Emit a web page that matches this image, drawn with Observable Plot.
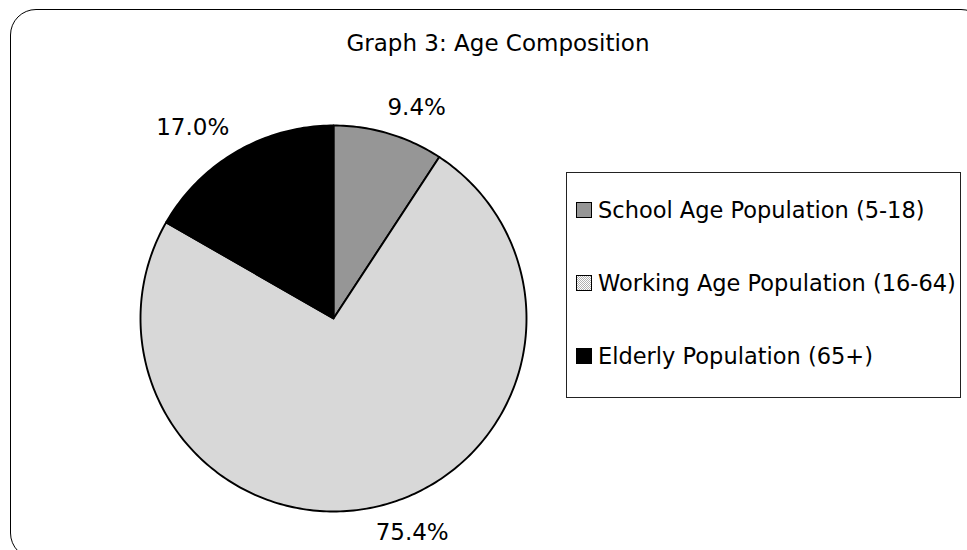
<!DOCTYPE html>
<html><head><meta charset="utf-8">
<script src="https://cdn.jsdelivr.net/npm/d3@7"></script>
<script src="https://cdn.jsdelivr.net/npm/@observablehq/plot@0.6"></script>
<style>
body{margin:0;background:#fff;font-family:"DejaVu Sans",sans-serif;color:#000;}
#wrap{position:relative;width:967px;height:550px;overflow:hidden;background:#fff;}
#frame{position:absolute;left:10px;top:9px;width:975px;height:548px;border:1.6px solid #000;border-radius:26px;}
#chart{position:absolute;left:0;top:0;}
#title{position:absolute;left:11px;width:974px;top:30px;text-align:center;font-size:23px;line-height:27px;}
#legend{position:absolute;left:566px;top:172px;width:393px;height:224px;border:1px solid #222;background:#fff;}
.row{position:absolute;left:9px;height:26px;display:flex;align-items:center;font-size:22.5px;line-height:26px;white-space:nowrap;}
.sw{width:14px;height:14px;border:1px solid #000;margin-right:6px;flex:none;}
</style></head><body>
<div id="wrap"><div id="frame"></div><div id="chart"></div><div id="title"></div><div id="legend"></div></div>
<script>
// ---- data ----
const chartTitle = "Graph 3: Age Composition";
const categories = ["School Age Population (5-18)", "Working Age Population (16-64)", "Elderly Population (65+)"];
const shares = [9.4, 75.4, 17.0];
const labels = ["9.4%", "75.4%", "17.0%"];

// ---- style / layout ----
const sliceFills = ["#969696", "url(#dots)", "#000000"];
const swatchCss = ["background:#969696",
  "background-color:#fff;background-image:conic-gradient(#b0b0b0 25%, #fff 0 50%, #b0b0b0 0 75%, #fff 0);background-size:2px 2px",
  "background:#000"];
const W = 967, H = 550, cx = 333, cy = 318, R = 193;
const labelR = 1.14;
const anchorDx = {start: -9, middle: 0, end: 6};
const rowCenters = [37, 110, 183];

document.getElementById("title").textContent = chartTitle;

// pie geometry from data
const arcs = d3.pie().sort(null).value(d => d)(shares);
const slices = arcs.map((a, i) => {
  const n = Math.max(2, Math.ceil((a.endAngle - a.startAngle) / (Math.PI / 180)));
  const pts = [{x: 0, y: 0}];
  for (let j = 0; j <= n; j++) {
    const t = a.startAngle + (a.endAngle - a.startAngle) * j / n;
    pts.push({x: Math.sin(t), y: Math.cos(t)});
  }
  return pts;
});
const labelData = arcs.map((a, i) => {
  const m = (a.startAngle + a.endAngle) / 2;
  const s = Math.sin(m);
  return {x: labelR * s, y: labelR * Math.cos(m), text: labels[i],
          anchor: s > 0.15 ? "start" : s < -0.15 ? "end" : "middle"};
});

const marks = slices.map((pts, i) => Plot.line(pts, {
  x: "x", y: "y", fill: sliceFills[i], stroke: "#000", strokeWidth: 1.9,
  strokeLinejoin: "round", curve: "linear-closed"
}));
for (const anchor of ["start", "middle", "end"]) {
  marks.push(Plot.text(labelData.filter(d => d.anchor === anchor), {
    x: "x", y: "y", text: "text", textAnchor: anchor, dx: anchorDx[anchor], fontSize: 23, fill: "#000"
  }));
}

const svg = Plot.plot({
  width: W, height: H, margin: 0,
  x: {domain: [-cx / R, (W - cx) / R], range: [0, W], axis: null},
  y: {domain: [-(H - cy) / R, cy / R], range: [H, 0], axis: null},
  style: {background: "transparent", fontFamily: "DejaVu Sans", overflow: "visible"},
  marks
});
d3.select(svg).insert("defs", ":first-child").html(
  '<pattern id="dots" width="2" height="2" patternUnits="userSpaceOnUse">' +
  '<rect width="2" height="2" fill="#fff"/><rect width="1" height="1" fill="#b0b0b0"/>' +
  '<rect x="1" y="1" width="1" height="1" fill="#b0b0b0"/></pattern>');
document.getElementById("chart").appendChild(svg);

// legend
const legend = document.getElementById("legend");
categories.forEach((c, i) => {
  const row = document.createElement("div");
  row.className = "row";
  row.style.top = (rowCenters[i] - 13) + "px";
  const sw = document.createElement("div");
  sw.className = "sw";
  sw.setAttribute("style", swatchCss[i]);
  const tx = document.createElement("span");
  tx.textContent = c;
  row.appendChild(sw); row.appendChild(tx);
  legend.appendChild(row);
});
</script>
</body></html>
